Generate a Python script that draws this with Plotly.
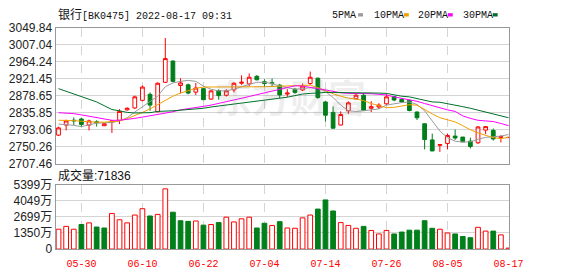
import plotly.graph_objects as go

# ---------------- data ----------------
dates = ["05-25", "05-26", "05-27", "05-30", "05-31", "06-01", "06-02", "06-06", "06-07", "06-08",
         "06-09", "06-10", "06-13", "06-14", "06-15", "06-16", "06-17", "06-20", "06-21", "06-22",
         "06-23", "06-24", "06-27", "06-28", "06-29", "06-30", "07-01", "07-04", "07-05", "07-06",
         "07-07", "07-08", "07-11", "07-12", "07-13", "07-14", "07-15", "07-18", "07-19", "07-20",
         "07-21", "07-22", "07-25", "07-26", "07-27", "07-28", "07-29", "08-01", "08-02", "08-03",
         "08-04", "08-05", "08-08", "08-09", "08-10", "08-11", "08-12", "08-15", "08-16", "08-17"]

opens = [2779.3, 2804.8, 2817.0, 2820.0, 2804.8, 2813.0, 2803.0, 2812.0, 2816.8, 2843.1,
         2847.9, 2867.1, 2882.2, 2838.3, 2912.6, 2966.0, 2904.6, 2906.2, 2887.8, 2896.6,
         2870.3, 2891.8, 2879.9, 2893.4, 2910.2, 2908.6, 2927.7, 2914.2, 2911.4, 2905.4,
         2883.0, 2895.0, 2893.4, 2909.4, 2922.9, 2863.1, 2836.7, 2804.8, 2840.7, 2871.1,
         2879.9, 2847.1, 2850.3, 2858.3, 2876.7, 2869.5, 2867.1, 2837.5, 2808.0, 2767.3,
         2753.7, 2758.5, 2776.9, 2774.5, 2764.1, 2760.1, 2792.0, 2791.2, 2773.7, 2773.0]
highs = [2800.8, 2818.4, 2824.0, 2823.2, 2818.4, 2817.0, 2809.6, 2816.0, 2844.7, 2849.5,
         2879.1, 2904.6, 2887.0, 2912.6, 3024.3, 2968.4, 2922.9, 2909.4, 2911.0, 2898.2,
         2892.6, 2895.0, 2895.0, 2912.6, 2930.1, 2934.9, 2930.9, 2920.5, 2922.1, 2908.6,
         2895.0, 2898.2, 2909.4, 2939.7, 2924.5, 2864.7, 2851.9, 2839.1, 2864.7, 2883.0,
         2885.4, 2864.7, 2859.9, 2884.6, 2877.5, 2872.7, 2868.7, 2839.1, 2808.0, 2783.3,
         2755.3, 2783.3, 2793.6, 2774.5, 2772.9, 2802.4, 2802.4, 2796.0, 2779.3, 2774.0]
lows = [2776.9, 2791.3, 2804.8, 2799.2, 2791.3, 2801.0, 2802.4, 2784.9, 2807.2, 2840.7,
        2845.5, 2864.7, 2840.7, 2836.7, 2911.0, 2912.6, 2884.6, 2882.2, 2880.6, 2867.9,
        2868.7, 2868.7, 2876.7, 2887.0, 2906.2, 2903.0, 2917.4, 2901.4, 2901.4, 2872.7,
        2875.8, 2883.8, 2890.2, 2906.2, 2871.1, 2813.6, 2795.3, 2804.0, 2832.8, 2869.5,
        2840.7, 2837.5, 2845.5, 2855.1, 2864.7, 2860.7, 2839.1, 2817.6, 2743.4, 2739.4,
        2737.0, 2743.4, 2767.3, 2762.5, 2745.8, 2756.9, 2781.7, 2765.7, 2760.9, 2772.6]
closes = [2797.6, 2815.2, 2815.6, 2806.4, 2815.2, 2811.0, 2808.0, 2815.2, 2839.1, 2847.1,
          2875.9, 2900.6, 2855.1, 2910.2, 2972.4, 2914.9, 2911.0, 2885.4, 2898.2, 2868.7,
          2891.0, 2879.0, 2891.0, 2910.2, 2912.6, 2925.3, 2918.9, 2909.4, 2910.0, 2880.6,
          2885.4, 2887.0, 2903.0, 2925.3, 2874.2, 2829.6, 2796.9, 2831.2, 2860.7, 2879.9,
          2842.3, 2851.1, 2855.1, 2875.9, 2867.9, 2863.1, 2841.5, 2823.2, 2768.1, 2739.4,
          2755.3, 2778.5, 2772.1, 2762.5, 2750.6, 2800.0, 2800.8, 2769.7, 2775.3, 2773.6]

ma5 = [2807.2, 2806.4, 2804.0, 2800.8, 2804.8, 2809.6, 2810.4, 2811.2, 2815.2, 2823.2,
       2837.5, 2851.1, 2864.7, 2877.5, 2901.4, 2911.0, 2915.0, 2917.4, 2915.0, 2903.0,
       2895.0, 2891.0, 2891.0, 2895.0, 2901.4, 2907.0, 2912.6, 2912.6, 2909.4, 2903.0,
       2898.2, 2895.0, 2896.6, 2899.0, 2897.4, 2889.4, 2874.2, 2855.1, 2840.7, 2839.1,
       2840.7, 2843.1, 2845.5, 2855.1, 2859.1, 2861.5, 2863.1, 2856.7, 2840.7, 2815.2,
       2789.7, 2772.9, 2764.1, 2761.7, 2762.5, 2768.9, 2773.7, 2775.3, 2776.9, 2780.9]
ma10 = [2816.8, 2816.8, 2816.0, 2814.4, 2812.8, 2812.0, 2812.0, 2812.8, 2815.2, 2820.8,
        2828.0, 2836.7, 2845.5, 2856.7, 2867.1, 2877.5, 2885.4, 2891.0, 2897.4, 2900.6,
        2900.6, 2900.6, 2899.8, 2899.8, 2899.8, 2899.8, 2900.6, 2901.4, 2902.2, 2903.0,
        2903.8, 2903.8, 2905.4, 2905.4, 2899.0, 2891.0, 2883.8, 2877.5, 2872.7, 2870.3,
        2866.3, 2859.1, 2853.5, 2848.7, 2849.5, 2851.9, 2856.0, 2855.1, 2843.1, 2832.8,
        2823.2, 2818.4, 2812.8, 2803.2, 2792.8, 2784.9, 2778.5, 2772.9, 2770.5, 2773.7]
ma20 = [2835.9, 2835.2, 2833.6, 2830.4, 2827.2, 2823.2, 2819.2, 2816.8, 2816.8, 2818.4,
        2821.6, 2824.8, 2828.0, 2831.2, 2834.4, 2838.3, 2843.1, 2845.5, 2848.7, 2851.9,
        2855.1, 2859.1, 2863.1, 2867.1, 2871.1, 2876.7, 2881.4, 2886.2, 2891.0, 2895.0,
        2899.0, 2903.8, 2903.0, 2900.6, 2896.6, 2893.4, 2889.4, 2886.2, 2884.6, 2884.6,
        2884.6, 2883.8, 2882.2, 2880.6, 2875.8, 2872.7, 2869.5, 2864.7, 2859.1, 2853.5,
        2847.1, 2843.1, 2839.1, 2827.9, 2821.6, 2816.8, 2815.2, 2813.6, 2808.8, 2803.2]
ma30 = [2896.6, 2890.2, 2883.8, 2877.5, 2871.1, 2863.1, 2853.5, 2843.9, 2840.7, 2836.7,
        2835.2, 2835.2, 2836.0, 2839.1, 2839.1, 2840.7, 2842.3, 2843.9, 2844.7, 2847.1,
        2850.3, 2852.7, 2855.1, 2857.5, 2860.7, 2863.1, 2865.5, 2867.9, 2870.3, 2872.7,
        2875.0, 2879.0, 2883.0, 2884.6, 2886.2, 2887.0, 2887.0, 2887.0, 2887.0, 2887.0,
        2887.0, 2886.2, 2885.4, 2884.6, 2880.6, 2877.5, 2875.8, 2871.1, 2867.1, 2863.1,
        2862.3, 2859.1, 2855.1, 2851.1, 2847.1, 2842.3, 2839.1, 2834.4, 2829.6, 2823.2]

# volume in 万
volume = [1660, 1897, 1660, 2055, 2190, 1842, 1763, 2980, 2450, 2190,
          2846, 3375, 2767, 2901, 5035, 3083, 2372, 2316, 2348, 2000,
          2055, 2213, 2664, 2269, 2530, 2664, 1763, 2158, 1976, 2292,
          1763, 1739, 2609, 2846, 3344, 4111, 3186, 2213, 1976, 1739,
          1897, 1557, 1265, 1557, 1265, 1423, 1581, 1581, 2372, 1739,
          1660, 1344, 1265, 1051, 949, 1818, 1502, 1502, 1186, 80]
# 1 = up (red hollow), 0 = down (green)
vol_up = [1, 1, 1, 0, 1, 0, 0, 1, 1, 1, 1, 1, 0, 1, 1, 0, 0, 0, 1, 0,
          1, 0, 1, 1, 1, 1, 0, 0, 1, 0, 1, 1, 1, 1, 0, 0, 0, 1, 1, 1,
          0, 1, 1, 1, 0, 0, 0, 0, 0, 0, 1, 1, 0, 0, 0, 1, 1, 0, 1, 1]

price_ticks = [2707.46, 2750.26, 2793.06, 2835.85, 2878.65, 2921.45, 2964.24, 3007.04, 3049.84]
vol_ticks = [0, 1350, 2699, 4049, 5399]
vol_tick_text = ["0", "1350万", "2699万", "4049万", "5399万"]
x_ticks = ["05-30", "06-10", "06-22", "07-04", "07-14", "07-26", "08-05", "08-17"]

ma_names = ["5PMA", "10PMA", "20PMA", "30PMA"]
ma_colors = ["#9a9a9a", "#f0a000", "#ff00ff", "#00702a"]

RED = "#ff0000"
GREEN = "#007f1a"
W, H = 578, 276

# ---------------- layout geometry (pixels -> paper) ----------------
xl, xr = 57, 522
main_top, main_bot = 22, 165
vol_top, vol_bot = 187, 255
xdom = [xl / W, xr / W]
ydom_main = [1 - main_bot / H, 1 - main_top / H]
ydom_vol = [1 - vol_bot / H, 1 - vol_top / H]
xrange = [-0.38, len(dates) - 1 + 0.11]

fig = go.Figure()

fig.add_trace(go.Candlestick(
    x=dates, open=opens, high=highs, low=lows, close=closes,
    increasing=dict(line=dict(color=RED, width=1), fillcolor="#ffffff"),
    decreasing=dict(line=dict(color=GREEN, width=1), fillcolor=GREEN),
    whiskerwidth=0, xaxis="x", yaxis="y", hoverinfo="skip", showlegend=False,
))

for name, vals, col in zip(ma_names, [ma5, ma10, ma20, ma30], ma_colors):
    fig.add_trace(go.Scatter(x=dates, y=vals, mode="lines", name=name,
                             line=dict(color=col, width=1),
                             xaxis="x", yaxis="y", showlegend=False, hoverinfo="skip"))

fig.add_trace(go.Bar(
    x=dates, y=volume, width=0.62,
    marker=dict(color=["#ffffff" if u else GREEN for u in vol_up],
                line=dict(color=[RED if u else GREEN for u in vol_up], width=1)),
    xaxis="x2", yaxis="y2", showlegend=False, hoverinfo="skip",
))

grid = "#d4d4d4"
border = "#999999"
label_font = dict(family="Liberation Sans, Noto Sans CJK SC, sans-serif", size=12, color="#222222")

fig.update_layout(
    width=W, height=H,
    margin=dict(l=0, r=0, t=0, b=0),
    paper_bgcolor="#ffffff", plot_bgcolor="#ffffff",
    showlegend=False,
    xaxis=dict(domain=xdom, anchor="y", type="category", range=xrange,
               tickvals=x_ticks, showticklabels=False, ticks="",
               showgrid=True, gridcolor=grid, griddash="dash", gridwidth=1,
               showline=True, linecolor=border, linewidth=1, mirror=True,
               rangeslider=dict(visible=False), fixedrange=True, zeroline=False),
    yaxis=dict(domain=ydom_main, anchor="x", range=[price_ticks[0], price_ticks[-1]],
               tickvals=price_ticks, ticktext=[f"{v:.2f}" for v in price_ticks],
               tickfont=label_font, ticks="", ticklen=0,
               showgrid=True, gridcolor=grid, gridwidth=1, zeroline=False,
               showline=True, linecolor=border, linewidth=1, mirror=True),
    xaxis2=dict(domain=xdom, anchor="y2", type="category", range=xrange,
                tickvals=x_ticks, ticktext=x_ticks, ticks="outside", ticklen=5,
                tickcolor="rgba(0,0,0,0)",
                tickfont=dict(family="Liberation Mono, monospace", size=10, color=RED),
                showgrid=True, gridcolor=grid, griddash="dash", gridwidth=1,
                showline=True, linecolor=border, linewidth=1, mirror=True,
                zeroline=False, fixedrange=True),
    yaxis2=dict(domain=ydom_vol, anchor="x2", range=[0, vol_ticks[-1]],
                tickmode="array", tickvals=vol_ticks, ticktext=vol_tick_text,
                tickfont=label_font,
                ticks="", showgrid=True, gridcolor=grid, gridwidth=1, zeroline=False,
                showline=True, linecolor=border, linewidth=1, mirror=True),
    bargap=0.3,
)

annotations = []
# watermark
annotations.append(dict(
    text="<b>东方财富</b>", x=(215 + 380) / 2 / W, y=1 - 93 / H, xref="paper", yref="paper",
    showarrow=False, xanchor="center", yanchor="middle",
    font=dict(family="Noto Sans CJK SC", size=38, color="rgba(120,120,120,0.13)")))
# title
annotations.append(dict(
    text='<span style="font-size:12px">银行</span>[BK0475] 2022-08-17 09:31',
    x=xl / W, y=1 - 9 / H, xref="paper", yref="paper", showarrow=False,
    xanchor="left", yanchor="middle",
    font=dict(family="Liberation Mono, Noto Sans CJK SC, monospace", size=10, color="#111111")))
# volume label
annotations.append(dict(
    text="成交量:71836", x=xl / W, y=1 - 177 / H, xref="paper", yref="paper",
    showarrow=False, xanchor="left", yanchor="middle",
    font=dict(family="Liberation Sans, Noto Sans CJK SC, sans-serif", size=12, color="#111111")))

# legend texts + colored keys
legend_x = [338, 381, 426, 472]
key_x = [367, 414, 459, 505]
shapes = []
for name, col, lx, kx in zip(ma_names, ma_colors, legend_x, key_x):
    annotations.append(dict(
        text=name, x=lx / W, y=1 - 8.5 / H, xref="paper", yref="paper", showarrow=False,
        xanchor="left", yanchor="middle",
        font=dict(family="Liberation Mono, monospace", size=10, color="#111111")))
    shapes.append(dict(type="rect", xref="paper", yref="paper",
                       x0=kx / W, x1=(kx + 5) / W, y0=1 - 10 / H, y1=1 - 6.5 / H,
                       fillcolor=col, line=dict(width=0)))

fig.update_layout(annotations=annotations, shapes=shapes)

fig.write_html("out.html",
               post_script="document.body.style.margin='0';document.documentElement.style.overflow='hidden';")
